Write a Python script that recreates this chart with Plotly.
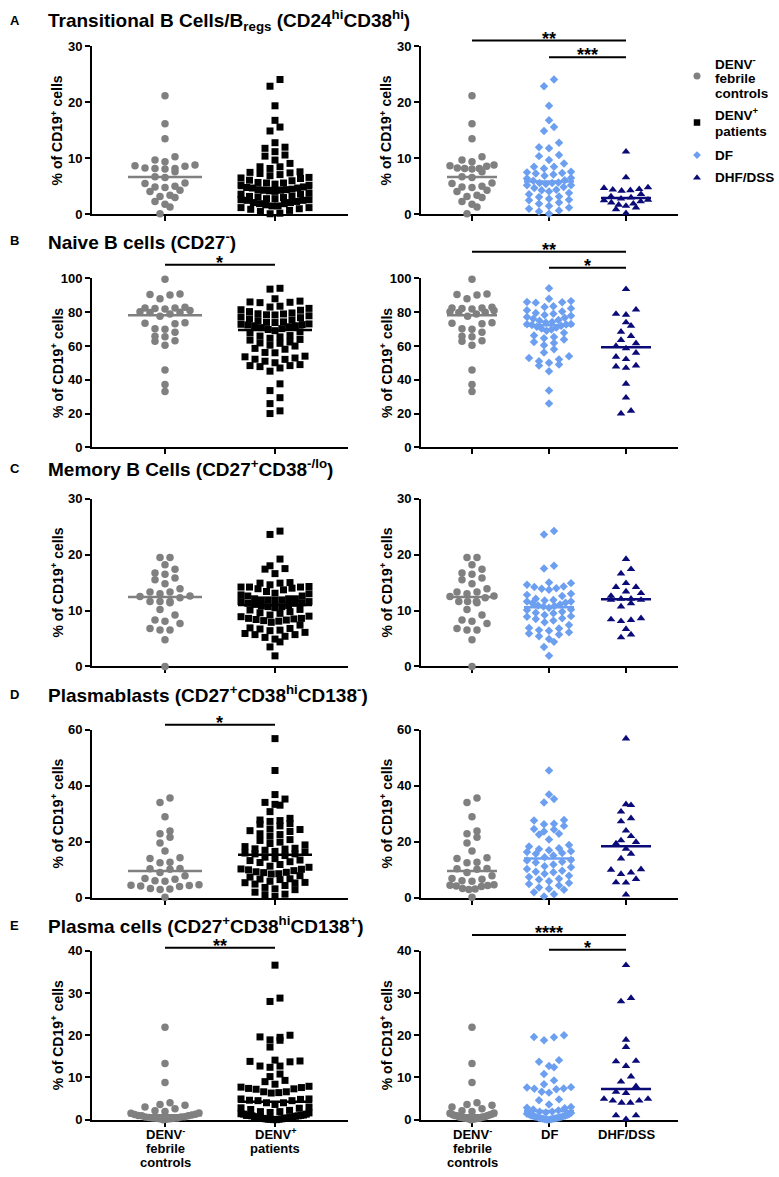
import numpy as np
import plotly.graph_objects as go

# ---------------- data ----------------
panel_letters = ["A", "B", "C", "D", "E"]
panel_titles = [
    "Transitional B Cells/B<sub>regs</sub> (CD24<sup>hi</sup>CD38<sup>hi</sup>)",
    "Naive B cells (CD27<sup>-</sup>)",
    "Memory B Cells (CD27<sup>+</sup>CD38<sup>-/lo</sup>)",
    "Plasmablasts (CD27<sup>+</sup>CD38<sup>hi</sup>CD138<sup>-</sup>)",
    "Plasma cells (CD27<sup>+</sup>CD38<sup>hi</sup>CD138<sup>+</sup>)",
]
y_max = [30, 100, 30, 60, 40]
y_step = [10, 20, 10, 20, 10]
y_title = "% of CD19<sup>+</sup> cells"

left_labels = [["DENV<sup>-</sup>", "febrile", "controls"], ["DENV<sup>+</sup>", "patients"]]
right_labels = [["DENV<sup>-</sup>", "febrile", "controls"], ["DF"], ["DHF/DSS"]]
legend_labels = [["DENV<sup>-</sup>", "febrile", "controls"], ["DENV<sup>+</sup>", "patients"], ["DF"], ["DHF/DSS"]]

controls_A = [21.2, 16.2, 13.5, 10.3, 9.7, 9.4, 8.8, 8.7, 8.6, 8.3, 8.2, 8.2, 8.1, 7.6, 6.7,
              6.6, 5.6, 5.5, 5.0, 4.9, 4.8, 4.3, 4.1, 3.4, 3.2, 3.0, 2.3, 1.8, 1.3, 0.1]
df_A = [24.1, 22.9, 19.4, 16.8, 15.6, 14.9, 12.8, 12.0, 11.8, 10.6, 10.4, 9.7, 9.1, 8.5, 8.5,
        8.2, 7.6, 7.5, 7.4, 7.3, 7.1, 6.9, 6.5, 6.4, 6.1, 6.0, 5.7, 5.6, 5.6, 5.4, 5.2, 5.2,
        4.9, 4.7, 4.4, 4.3, 4.1, 3.8, 3.6, 3.2, 3.1, 2.8, 2.6, 2.5, 2.1, 1.9, 1.5, 1.2, 1.0,
        0.7, 0.5, 0.1]
dhf_A = [11.2, 6.6, 4.8, 4.7, 4.5, 4.4, 4.3, 4.2, 3.6, 3.2, 3.0, 2.8, 2.6, 2.5, 2.3, 2.1,
         1.9, 1.7, 1.5, 1.2, 0.9, 0.2]

controls_B = [99.6, 90.8, 90.5, 90.2, 88.0, 83.0, 82.5, 82.5, 82.2, 82.0, 81.0, 80.3, 80.0,
              79.8, 79.0, 77.6, 73.8, 73.5, 73.2, 70.3, 70.0, 68.2, 65.8, 65.5, 63.2, 62.8,
              60.5, 45.8, 37.2, 33.0]
df_B = [94.2, 88.0, 86.6, 86.1, 85.9, 85.7, 83.6, 83.1, 82.3, 81.2, 80.4, 79.6, 79.1, 78.4,
        77.9, 77.2, 76.8, 76.1, 75.4, 75.0, 74.3, 73.9, 73.1, 72.9, 72.7, 72.5, 72.0, 71.4,
        70.9, 70.3, 69.8, 69.1, 67.8, 66.2, 65.4, 64.6, 63.9, 62.4, 61.8, 60.5, 58.1, 56.2,
        54.0, 52.9, 52.1, 51.0, 50.1, 49.0, 48.4, 45.1, 33.6, 25.9]
dhf_B = [93.7, 81.5, 79.0, 78.5, 74.0, 72.0, 68.4, 65.9, 63.5, 61.6, 60.0, 58.6, 56.0, 53.6,
         52.2, 48.4, 47.8, 47.0, 37.6, 29.4, 21.6, 20.0]

controls_C = [19.5, 19.5, 18.2, 17.4, 16.7, 16.5, 15.8, 15.5, 14.8, 13.9, 13.3, 13.3, 13.0,
              12.6, 12.5, 12.3, 11.6, 11.6, 11.6, 11.4, 10.2, 9.2, 8.3, 8.1, 7.7, 6.8, 6.5,
              6.5, 4.8, 0.0]
df_C = [24.2, 23.6, 18.0, 17.5, 15.0, 14.9, 14.6, 14.3, 14.2, 14.0, 13.9, 13.7, 13.0, 12.8,
        12.6, 12.1, 11.9, 11.8, 11.6, 11.6, 11.4, 11.3, 11.1, 10.9, 10.8, 10.7, 10.5, 10.2,
        10.1, 9.8, 9.6, 9.5, 9.2, 9.0, 8.9, 8.6, 8.5, 8.2, 7.9, 7.4, 6.9, 6.8, 6.5, 6.4, 6.1,
        5.9, 5.7, 5.4, 4.9, 4.4, 3.5, 1.9]
dhf_C = [19.2, 17.4, 16.6, 14.9, 14.2, 14.2, 13.4, 13.1, 12.6, 12.1, 12.1, 11.9, 11.9, 11.3,
         10.7, 8.6, 8.4, 8.3, 8.1, 6.7, 5.7, 5.2]

controls_D = [35.6, 34.0, 28.9, 23.8, 22.8, 21.5, 19.5, 16.6, 14.2, 13.9, 12.6, 12.4, 10.4,
              10.3, 10.1, 8.9, 7.8, 6.8, 6.5, 6.0, 5.8, 4.6, 4.4, 4.3, 4.1, 3.9, 3.2, 3.0,
              2.9, 0.1]
df_D = [45.4, 36.8, 35.2, 34.0, 27.7, 27.5, 26.4, 26.2, 25.6, 24.5, 24.3, 23.6, 22.8, 22.5,
        20.7, 18.8, 18.2, 17.6, 17.3, 16.9, 16.5, 16.3, 15.9, 15.6, 15.0, 14.4, 13.4, 13.2,
        12.8, 12.5, 11.8, 11.2, 10.8, 10.2, 9.6, 9.2, 9.0, 8.5, 7.8, 7.3, 6.7, 6.4, 5.8, 5.2,
        4.8, 4.3, 3.6, 3.1, 2.8, 1.9, 1.2, 0.4]
dhf_D = [56.8, 33.3, 33.0, 30.7, 28.3, 27.2, 23.9, 21.9, 20.4, 19.8, 19.3, 17.4, 15.6, 13.9,
         10.1, 9.9, 8.9, 8.4, 6.6, 5.4, 5.3, 1.0]

controls_E = [21.9, 13.3, 8.8, 4.0, 3.6, 3.4, 3.0, 2.6, 2.1, 1.9, 1.6, 1.5, 1.3, 1.2, 1.1,
              1.0, 0.9, 0.9, 0.7, 0.6, 0.6, 0.5, 0.4, 0.4, 0.3, 0.3, 0.2, 0.2, 0.1, 0.0]
df_E = [20.0, 19.6, 19.5, 18.8, 14.1, 13.7, 12.7, 12.4, 10.8, 9.3, 8.4, 7.7, 7.6, 7.4, 7.3,
        7.2, 6.6, 6.4, 4.8, 4.6, 3.6, 3.0, 2.8, 2.7, 2.4, 2.2, 1.9, 1.9, 1.7, 1.6, 1.4, 1.3,
        1.3, 1.1, 1.0, 0.9, 0.9, 0.8, 0.7, 0.6, 0.6, 0.5, 0.4, 0.4, 0.3, 0.3, 0.2, 0.2, 0.1,
        0.1, 0.0, 0.0]
dhf_E = [36.6, 28.8, 28.0, 18.9, 17.2, 13.9, 13.8, 12.7, 10.2, 9.0, 7.9, 6.6, 6.3, 4.9, 4.9,
         4.5, 4.5, 4.0, 4.0, 1.0, 1.0, 0.1]

controls = [controls_A, controls_B, controls_C, controls_D, controls_E]
df = [df_A, df_B, df_C, df_D, df_E]
dhf = [dhf_A, dhf_B, dhf_C, dhf_D, dhf_E]

# significance comparisons: (group i, group j, label)
sig_left = {1: [(0, 1, "*")], 3: [(0, 1, "*")], 4: [(0, 1, "**")]}
sig_right = {0: [(0, 2, "**"), (1, 2, "***")], 1: [(0, 2, "**"), (1, 2, "*")],
             4: [(0, 2, "****"), (1, 2, "*")]}

# ---------------- layout constants (pixels) ----------------
W, H = 779, 1177
FONT = "Liberation Sans, Arial, Helvetica, sans-serif"
ROW_PX = [(40, 210), (275, 446), (498, 668), (732, 902), (956, 1127)]
TITLE_Y = [14, 237, 467, 696, 930]
LEFT_PX, RIGHT_PX = (92, 348), (421, 678)
LEFT_CAT0, LEFT_STEP = 165, 110
RIGHT_CAT0, RIGHT_STEP = 472, 77
SIG_LEFT_Y = {1: [261], 3: [727], 4: [953]}
SIG_RIGHT_Y = {0: [34, 51], 1: [248, 264], 4: [940, 955]}

C_CTRL, C_PAT, C_DF, C_DHF = "#808080", "#000000", "#6c9ff0", "#0b0b78"
STY_CTRL = dict(color=C_CTRL, symbol="circle", size=7.5)
STY_PAT = dict(color=C_PAT, symbol="square", size=7)
STY_DF = dict(color=C_DF, symbol="diamond", size=6.5)
STY_DHF = dict(color=C_DHF, symbol="triangle-up", size=7.5)


def px_x(p):
    return p / W


def px_y(p):
    return 1 - p / H


def swarm_offsets(values, ppu, max_half, row_h=7.0, slot=10.0):
    """Prism-like row layout: bin by value, spread each row horizontally (pixels)."""
    v = np.asarray(values, float)
    order = np.argsort(v, kind="stable")
    off = np.zeros(len(v))
    i = 0
    while i < len(order):
        base = v[order[i]]
        j = i
        while j < len(order) and (v[order[j]] - base) * ppu < row_h:
            j += 1
        idx = order[i:j]
        n = len(idx)
        sp = slot if n < 2 else min(slot, 2 * max_half / (n - 1))
        pos = np.arange(n) - (n - 1) / 2.0
        fill = sorted(range(n), key=lambda k: (abs(pos[k]), pos[k]))
        for rank, k in enumerate(fill):
            off[idx[rank]] = pos[k] * sp
        i = j
    return off


fig = go.Figure()
annotations, shapes, lay = [], [], {}

for r in range(5):
    top, bot = ROW_PX[r]
    ppu = (bot - top) / y_max[r]
    for c in range(2):
        n = r * 2 + c + 1
        xa = "x" if n == 1 else f"x{n}"
        ya = "y" if n == 1 else f"y{n}"
        x0, x1 = LEFT_PX if c == 0 else RIGHT_PX
        cat0, step = (LEFT_CAT0, LEFT_STEP) if c == 0 else (RIGHT_CAT0, RIGHT_STEP)
        half = 37 if c == 0 else 25
        if c == 0:
            groups = [(controls[r], STY_CTRL), (df[r] + dhf[r], STY_PAT)]
        else:
            groups = [(controls[r], STY_CTRL), (df[r], STY_DF), (dhf[r], STY_DHF)]
        for gi, (vals, sty) in enumerate(groups):
            off = swarm_offsets(vals, ppu, half - 3)
            fig.add_trace(go.Scatter(
                x=gi + off / step, y=vals, mode="markers", xaxis=xa, yaxis=ya,
                marker=dict(color=sty["color"], symbol=sty["symbol"], size=sty["size"],
                            line=dict(width=0)),
                cliponaxis=False, hoverinfo="skip", showlegend=False))
            med = float(np.median(vals))
            fig.add_trace(go.Scatter(
                x=[gi - half / step, gi + half / step], y=[med, med], mode="lines",
                xaxis=xa, yaxis=ya, line=dict(color=sty["color"], width=2.5),
                hoverinfo="skip", showlegend=False))
        ncat = len(groups)
        rng = [(x0 - cat0) / step, (x1 - cat0) / step]
        axis_common = dict(showline=True, linecolor="black", linewidth=2, ticks="outside",
                           ticklen=5, tickwidth=2, tickcolor="black", showgrid=False,
                           zeroline=False, layer="below traces", fixedrange=True)
        lay["xaxis" if n == 1 else f"xaxis{n}"] = dict(
            domain=[px_x(x0), px_x(x1)], range=rng, anchor=ya,
            tickvals=list(range(ncat)), showticklabels=False, **axis_common)
        lay["yaxis" if n == 1 else f"yaxis{n}"] = dict(
            domain=[px_y(bot), px_y(top)], range=[0, y_max[r]], anchor=xa,
            tickvals=list(range(0, y_max[r] + 1, y_step[r])),
            tickfont=dict(family=FONT, size=13, color="black", weight="bold"),
            **axis_common)
        # y title
        annotations.append(dict(
            text="<b>" + y_title + "</b>", textangle=-90, xref="paper", yref="paper",
            x=px_x(x0 - 35), y=px_y((top + bot) / 2), xanchor="center", yanchor="middle",
            showarrow=False, font=dict(family=FONT, size=14, color="black")))
        # significance bars
        sig = (sig_left if c == 0 else sig_right).get(r, [])
        sig_y = (SIG_LEFT_Y if c == 0 else SIG_RIGHT_Y).get(r, [])
        for (gi, gj, lab), yb in zip(sig, sig_y):
            xa0, xa1 = cat0 + gi * step, cat0 + gj * step
            shapes.append(dict(type="line", xref="paper", yref="paper",
                               x0=px_x(xa0), x1=px_x(xa1), y0=px_y(yb), y1=px_y(yb),
                               line=dict(color="black", width=2)))
            annotations.append(dict(
                text="<b>" + lab + "</b>", xref="paper", yref="paper",
                x=px_x((xa0 + xa1) / 2), y=px_y(yb - 2), xanchor="center",
                yanchor="middle", showarrow=False,
                font=dict(family=FONT, size=18, color="black")))
        # category labels under the last row
        if r == 4:
            labels = left_labels if c == 0 else right_labels
            for gi, lines in enumerate(labels):
                for li, line in enumerate(lines):
                    annotations.append(dict(
                        text="<b>" + line + "</b>", xref="paper", yref="paper",
                        x=px_x(cat0 + gi * step), y=px_y(1142 + li * 14.3),
                        xanchor="center", yanchor="middle", showarrow=False,
                        font=dict(family=FONT, size=13, color="black")))
    # panel letter and title
    annotations.append(dict(text="<b>" + panel_letters[r] + "</b>", xref="paper",
                            yref="paper", x=px_x(8), y=px_y(TITLE_Y[r]), xanchor="left",
                            yanchor="middle", showarrow=False,
                            font=dict(family=FONT, size=13, color="black")))
    annotations.append(dict(text="<b>" + panel_titles[r] + "</b>", xref="paper",
                            yref="paper", x=px_x(46), y=px_y(TITLE_Y[r]), xanchor="left",
                            yanchor="middle", showarrow=False,
                            font=dict(family=FONT, size=19, color="black")))

# ---------------- legend (manual) ----------------
LEG_MARK_X, LEG_TEXT_X = 697, 713
LEG_LINE_Y = [[57, 72, 88], [108, 126], [150], [173]]
LEG_MARK_Y = [70, 117, 150, 173]
leg_styles = [STY_CTRL, STY_PAT, STY_DF, STY_DHF]
lay["xaxis11"] = dict(domain=[0, 1], range=[0, W], visible=False, fixedrange=True,
                      anchor="y11")
lay["yaxis11"] = dict(domain=[0, 1], range=[H, 0], visible=False, fixedrange=True,
                      anchor="x11")
for k, sty in enumerate(leg_styles):
    fig.add_trace(go.Scatter(
        x=[LEG_MARK_X], y=[LEG_MARK_Y[k]], mode="markers", xaxis="x11", yaxis="y11",
        marker=dict(color=sty["color"], symbol=sty["symbol"], size=sty["size"] - 0.5),
        hoverinfo="skip", showlegend=False))
    for line, yy in zip(legend_labels[k], LEG_LINE_Y[k]):
        annotations.append(dict(text="<b>" + line + "</b>", xref="paper", yref="paper",
                                x=px_x(LEG_TEXT_X), y=px_y(yy), xanchor="left",
                                yanchor="middle", showarrow=False,
                                font=dict(family=FONT, size=13.5, color="black")))

fig.update_layout(width=W, height=H, margin=dict(l=0, r=0, t=0, b=0),
                  paper_bgcolor="white", plot_bgcolor="rgba(0,0,0,0)",
                  showlegend=False, annotations=annotations, shapes=shapes,
                  font=dict(family=FONT, color="black"), **lay)

fig.write_html("out.html", config={"displayModeBar": False, "staticPlot": True},
               post_script="document.body.style.margin='0';document.body.style.overflow='hidden';")
